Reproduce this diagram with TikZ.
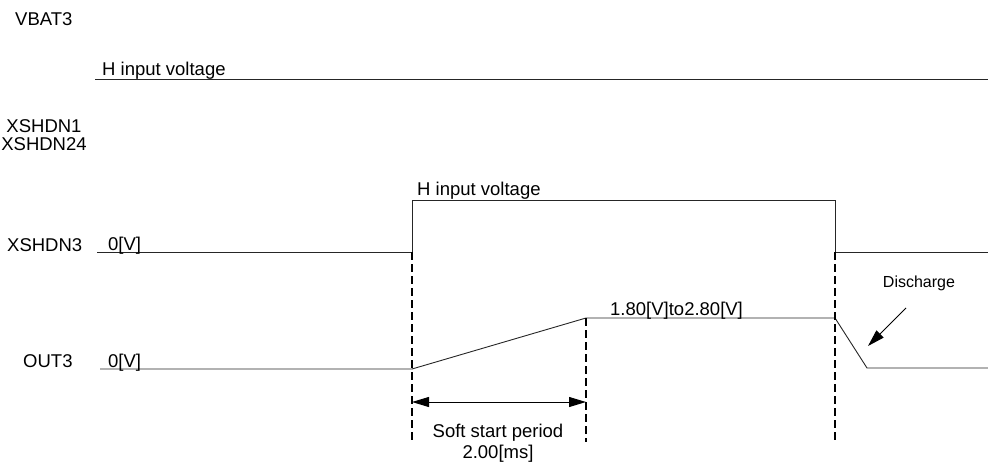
\documentclass[tikz,border=0pt]{standalone}
\usepackage{fontspec}
\setmainfont{Liberation Sans}
\usetikzlibrary{arrows.meta}
% Dashed timing marker from a coordinate down to the bottom line
\newcommand{\drawmarker}[2]{
  \draw[marker] (#1) -- (#1 |- #2);
}

\begin{document}
\begin{tikzpicture}[x=1pt, y=-1pt,
    font=\fontsize{18.5}{20}\selectfont,
    signal/.style={line width=0.9pt, draw=black!85},
    marker/.style={line width=2pt, dash pattern=on 8pt off 4pt},
    dimarrow/.style={line width=1pt, {Triangle[length=17pt, width=10pt]}-{Triangle[length=17pt, width=10pt]}},
    txt/.style={inner sep=0pt, anchor=base west}
  ]
  \useasboundingbox (0,0) rectangle (988,463);

  % Switching times along the time axis
  \pgfmathsetmacro{\ton}{412}
  \pgfmathsetmacro{\tsoft}{586}
  \pgfmathsetmacro{\toff}{835}
  \pgfmathsetmacro{\tend}{867}
  % Levels of the three traces
  \pgfmathsetmacro{\vbat}{79}
  \pgfmathsetmacro{\xlow}{252}
  \pgfmathsetmacro{\xhigh}{200}
  \pgfmathsetmacro{\olow}{369}
  \pgfmathsetmacro{\ohigh}{318}
  \pgfmathsetmacro{\bottom}{442}

  % Signal names
  \node[txt] (vbatname) at (15,25.5) {VBAT3};
  \node[inner sep=0pt, anchor=base] (xs1name) at (44,132) {XSHDN1};
  \node[inner sep=0pt, anchor=base] (xs24name) at (44,150.5) {XSHDN24};
  \node[txt] (xs3name) at (7,251) {XSHDN3};
  \node[txt] (outname) at (23,367) {OUT3};

  % VBAT3 trace
  \coordinate (vbat start) at (95,\vbat);
  \coordinate (vbat end) at (988,\vbat);
  \draw[signal] (vbat start) -- (vbat end);
  \node[txt] (vbathigh) at (102,75) {H input voltage};

  % XSHDN3 trace
  \coordinate (xs start) at (97,\xlow);
  \coordinate (xs rise) at (\ton,\xlow);
  \coordinate (xs top) at (\ton,\xhigh);
  \coordinate (xs topend) at (\toff,\xhigh);
  \coordinate (xs fall) at (\toff,\xlow);
  \coordinate (xs end) at (988,\xlow);
  \draw[signal] (xs start) -- (xs rise) -- (xs top) -- (xs topend)
    -- (xs fall) -- (xs end);
  \node[txt] (xslow) at (108,250) {0[V]};
  \node[txt] (xshigh) at (417,195) {H input voltage};

  % OUT3 trace with soft start and discharge
  \coordinate (out start) at (100,\olow);
  \coordinate (out rise) at (\ton,\olow);
  \coordinate (out top) at (\tsoft,\ohigh);
  \coordinate (out topend) at (\toff,\ohigh);
  \coordinate (out low) at (\tend,\olow-1);
  \coordinate (out end) at (988,\olow-1);
  \draw[signal] (out start) -- (out rise) -- (out top) -- (out topend)
    -- (out low) -- (out end);
  \node[txt] (outlow) at (108,367) {0[V]};
  \node[txt] (outhigh) at (610,315) {1.80[V]to2.80[V]};

  % Timing markers
  \coordinate (base) at (0,\bottom);
  \drawmarker{xs rise}{base}
  \drawmarker{out top}{base}
  \drawmarker{xs fall}{base}

  % Soft start period
  \coordinate (soft a) at (\ton,402);
  \coordinate (soft b) at (\tsoft,402);
  \draw[dimarrow] (soft a) -- (soft b);
  \node[inner sep=0pt, anchor=base] (softtext) at (498,437) {Soft start period};
  \node[inner sep=0pt, anchor=base] (softtime) at (498,458) {2.00[ms]};

  % Discharge
  \node[inner sep=0pt, anchor=base, font=\fontsize{16}{18}\selectfont] (discharge)
    at (919,287) {Discharge};
  \coordinate (dis from) at (906,308);
  \coordinate (dis to) at (868,346);
  \draw[line width=1pt, -{Triangle[length=17pt, width=10pt]}] (dis from) -- (dis to);
\end{tikzpicture}
\end{document}
